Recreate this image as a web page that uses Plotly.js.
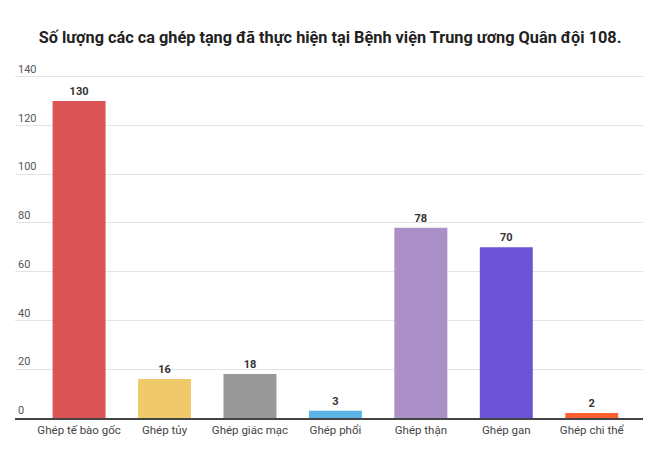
<!DOCTYPE html>
<html>
<head>
<meta charset="utf-8">
<script src="https://cdn.plot.ly/plotly-3.0.1.min.js"></script>
<style>
  body { margin: 0; background: #fff; }
  #chart { width: 660px; height: 454px; }
</style>
</head>
<body>
<div id="chart"></div>
<script>
const categories = ["Ghép tế bào gốc", "Ghép tủy", "Ghép giác mạc", "Ghép phổi", "Ghép thận", "Ghép gan", "Ghép chi thể"];
const counts = [130, 16, 18, 3, 78, 70, 2];
const barColors = ["#dc5356", "#f0ca6a", "#999999", "#5bb4e5", "#ab90c8", "#6c53d8", "#fc6030"];
const yTicks = [0, 20, 40, 60, 80, 100, 120, 140];

const barTrace = [{
    x: categories,
    y: counts,
    type: 'bar',
    marker: {color: barColors},
    text: counts.map(String),
    textposition: 'outside',
    cliponaxis: false,
    textfont: {family: 'Roboto', size: 11, color: '#333', weight: 'bold'},
    hoverinfo: 'none'
}];

// y range goes a bit past 140 so the "140" label (drawn above its gridline) fits inside
const layout = {
    width: 660,
    height: 454,
    margin: {l: 15, r: 17, t: 62, b: 36},
    paper_bgcolor: '#fff',
    plot_bgcolor: '#fff',
    bargap: 0.38,
    showlegend: false,
    title: {
        text: 'Số lượng các ca ghép tạng đã thực hiện tại Bệnh viện Trung ương Quân đội 108.',
        font: {family: 'Roboto', size: 16.3, color: '#222', weight: 'bold'},
        x: 0.5,
        xanchor: 'center',
        y: 0.918,
        yanchor: 'middle'
    },
    xaxis: {
        type: 'category',
        range: [-0.75, 6.6],
        showgrid: false,
        showline: true,
        linecolor: '#444',
        linewidth: 2,
        ticks: '',
        tickfont: {family: 'Roboto', size: 11.5, color: '#444'},
        fixedrange: true
    },
    yaxis: {
        range: [0, 146],
        tickvals: yTicks,
        ticktext: yTicks.map(String),
        ticklabelposition: 'inside top',
        tickfont: {family: 'Roboto', size: 11, color: '#555'},
        showgrid: true,
        gridcolor: '#e4e4e4',
        gridwidth: 1,
        zeroline: false,
        showline: false,
        fixedrange: true
    },
    font: {family: 'Roboto'}
};

const plotConfig = {responsive: false, displayModeBar: false, staticPlot: true};
Plotly.newPlot('chart', barTrace, layout, plotConfig);
</script>
</body>
</html>
